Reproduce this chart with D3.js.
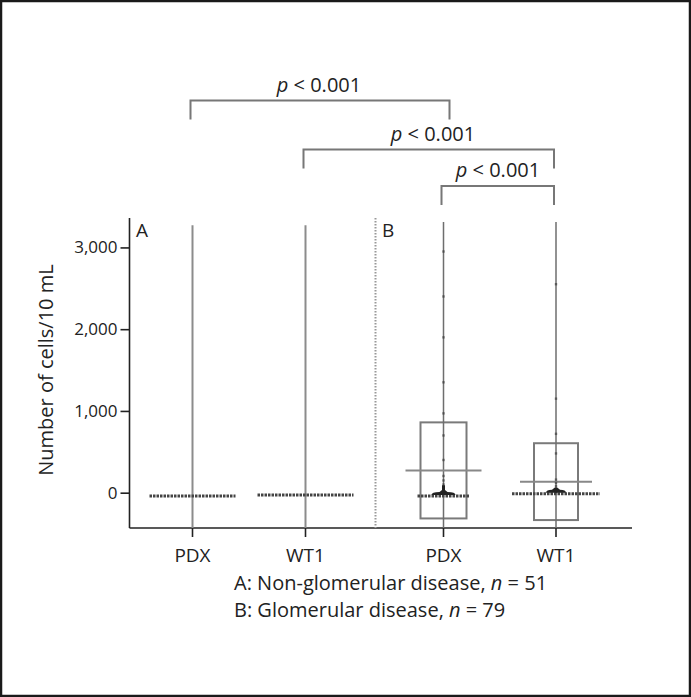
<!DOCTYPE html>
<html><head><meta charset="utf-8">
<script src="https://cdn.jsdelivr.net/npm/d3@7"></script>
<style>
html,body{margin:0;padding:0;background:#fff;}
svg{display:block;font-family:"Open Sans",sans-serif;}
</style></head>
<body><svg id="c" width="691" height="697"></svg>
<script>
// ---- data ----
const categories = ["PDX", "WT1", "PDX", "WT1"];
const groups = ["A", "A", "B", "B"];
const maxValues = [3270, 3270, 3310, 3310];
const medianValues = [-40, -28, -40, -12];
const meanValues = [null, null, 270, 135];
const boxHigh = [null, null, 860, 605];
const boxLow = [null, null, -315, -335];
const pointsPDXB = [2950, 2400, 1900, 1350, 970, 700, 400, 205, 150, 100, 60, 30, 10];
const pointsWT1B = [2550, 1150, 720, 480, 160, 120, 80, 50, 25, 10];
const yTicks = [0, 1000, 2000, 3000];
const comparisons = [[0, 2], [1, 3], [2, 3]];
const pLabels = ["p < 0.001", "p < 0.001", "p < 0.001"];
const footnotes = [["A: Non-glomerular disease, ", "n", " = 51"], ["B: Glomerular disease, ", "n", " = 79"]];
const yTitle = "Number of cells/10 mL";

// ---- layout ----
const svg = d3.select("#c");
svg.append("rect").attr("x", 1).attr("y", 1).attr("width", 689).attr("height", 695)
  .attr("fill", "#fff").attr("stroke", "#1a1a1a").attr("stroke-width", 2.5);

const axisX = 129.5, axisBottom = 528, axisTop = 218, axisRight = 632;
const y = d3.scaleLinear().domain([-432, 3360]).range([axisBottom, axisTop]);
const xPos = d3.scaleOrdinal().domain([0, 1, 2, 3]).range([192.5, 305.5, 443.5, 556]);
const dividerX = 375.5;

const stripHalf = [43, 48, 26, 44];
const meanHalf = [0, 0, 38, 36];
const boxHalf = [0, 0, 23, 22];

// y axis
const yAxis = d3.axisLeft(y).tickValues(yTicks).tickSize(9).tickPadding(3)
  .tickFormat(d3.format(","));
const gy = svg.append("g").attr("transform", `translate(${axisX},0)`).call(yAxis);
gy.select(".domain").attr("d", `M0,${axisTop}V${axisBottom}`).attr("stroke", "#222").attr("stroke-width", 1.6);
gy.selectAll(".tick line").attr("stroke", "#222").attr("stroke-width", 1.6);
gy.selectAll(".tick text").attr("font-size", 17).attr("fill", "#222").attr("font-family", "Open Sans");

// x axis
svg.append("line").attr("x1", axisX).attr("x2", axisRight).attr("y1", axisBottom).attr("y2", axisBottom)
  .attr("stroke", "#222").attr("stroke-width", 1.6);
categories.forEach((c, i) => {
  svg.append("line").attr("x1", xPos(i)).attr("x2", xPos(i)).attr("y1", axisBottom).attr("y2", axisBottom + 9)
    .attr("stroke", "#222").attr("stroke-width", 1.6);
  svg.append("text").attr("x", xPos(i)).attr("y", 562).attr("text-anchor", "middle")
    .attr("font-size", 19).attr("fill", "#222").text(c);
});

// divider
svg.append("line").attr("x1", dividerX).attr("x2", dividerX).attr("y1", axisTop).attr("y2", axisBottom)
  .attr("stroke", "#999").attr("stroke-width", 2).attr("stroke-dasharray", "1.5,1.5");

// panel labels
svg.append("text").attr("x", 136).attr("y", 237).attr("font-size", 19).attr("fill", "#222").text("A");
svg.append("text").attr("x", 382).attr("y", 237).attr("font-size", 19).attr("fill", "#222").text("B");

// marks
categories.forEach((c, i) => {
  const cx = xPos(i);
  if (boxHigh[i] != null) {
    svg.append("rect").attr("x", cx - boxHalf[i]).attr("width", boxHalf[i] * 2)
      .attr("y", y(boxHigh[i])).attr("height", y(boxLow[i]) - y(boxHigh[i]))
      .attr("fill", "none").attr("stroke", "#7a7a7a").attr("stroke-width", 2);
  }
  svg.append("line").attr("x1", cx).attr("x2", cx).attr("y1", y(maxValues[i])).attr("y2", axisBottom)
    .attr("stroke", groups[i] === "A" ? "#8c8c8c" : "#6e6e6e").attr("stroke-width", groups[i] === "A" ? 2 : 1.5);
  if (meanValues[i] != null) {
    svg.append("line").attr("x1", cx - meanHalf[i]).attr("x2", cx + meanHalf[i])
      .attr("y1", y(meanValues[i])).attr("y2", y(meanValues[i]))
      .attr("stroke", "#888").attr("stroke-width", 2);
  }
  svg.append("line").attr("x1", cx - stripHalf[i]).attr("x2", cx + stripHalf[i])
    .attr("y1", y(medianValues[i])).attr("y2", y(medianValues[i]))
    .attr("stroke", "#444").attr("stroke-width", 3).attr("stroke-dasharray", "2.5,1");
});

// points on B columns
function drawPoints(vals, i) {
  const cx = xPos(i);
  svg.append("g").selectAll("rect").data(vals).join("rect")
    .attr("x", cx - 1.2).attr("width", 2.4)
    .attr("y", d => y(d) - 1.2).attr("height", 2.4)
    .attr("fill", "#333").attr("opacity", 0.6);
}
drawPoints(pointsPDXB, 2);
drawPoints(pointsWT1B, 3);
// dense clusters near zero
[[2, 12, 90], [3, 10, 60]].forEach(([i, hw, top]) => {
  const cx = xPos(i), ym = y(medianValues[i]);
  svg.append("path")
    .attr("d", `M${cx - hw},${ym - 1}Q${cx - hw},${ym - 4} ${cx - 4},${ym - 4}L${cx - 1.5},${ym - 6}L${cx - 1.5},${y(top)}L${cx + 1.5},${y(top)}L${cx + 1.5},${ym - 6}L${cx + 4},${ym - 4}Q${cx + hw},${ym - 4} ${cx + hw},${ym - 1}Z`)
    .attr("fill", "#222");
});

// brackets
const bracketTop = [100.5, 149.5, 186];
const legLen = 19;
comparisons.forEach(([a, b], k) => {
  const x1 = xPos(a) - 2, x2 = xPos(b) - 2 + (b === 3 ? 0 : 8);
  const yt = bracketTop[k];
  svg.append("path").attr("d", `M${x1},${yt + legLen}V${yt}H${x2}V${yt + legLen}`)
    .attr("fill", "none").attr("stroke", "#777").attr("stroke-width", 2);
  const t = svg.append("text").attr("x", [319, 433, 498][k]).attr("y", yt - 9)
    .attr("text-anchor", "middle").attr("font-size", 20).attr("fill", "#222");
  t.append("tspan").attr("font-style", "italic").text("p");
  t.append("tspan").text(pLabels[k].slice(1));
});

// footnotes
footnotes.forEach((f, k) => {
  const t = svg.append("text").attr("x", 234).attr("y", 590 + k * 26.5).attr("font-size", 20).attr("fill", "#222");
  t.append("tspan").text(f[0]);
  t.append("tspan").attr("font-style", "italic").text(f[1]);
  t.append("tspan").text(f[2]);
});

// y title
svg.append("text").attr("transform", `translate(53,370) rotate(-90)`).attr("text-anchor", "middle")
  .attr("font-size", 20).attr("fill", "#222").text(yTitle);
</script></body></html>
